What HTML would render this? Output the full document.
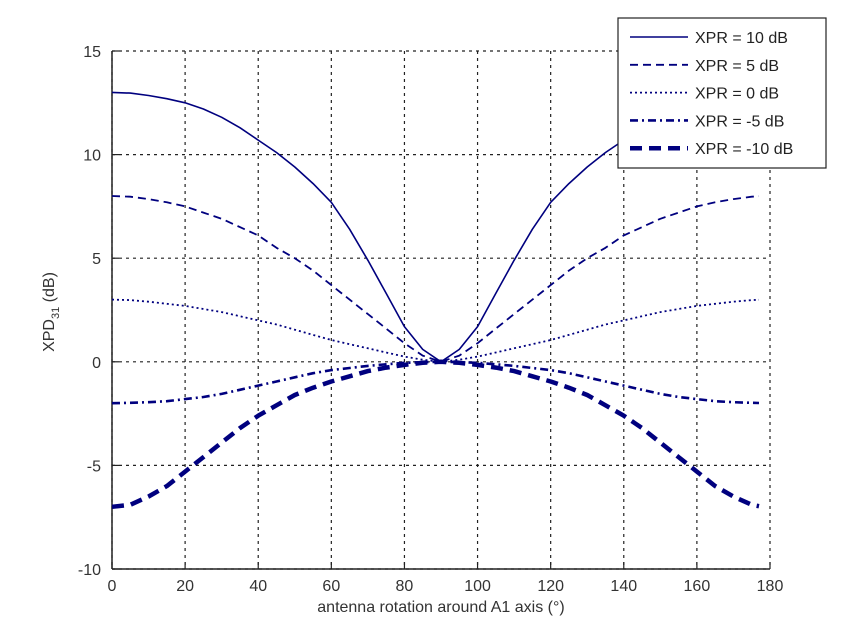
<!DOCTYPE html>
<html><head><meta charset="utf-8"><style>
body{margin:0;background:#fff;}
svg{display:block;font-family:"Liberation Sans",sans-serif;}
</style></head><body>
<svg id="chart" width="850" height="636" viewBox="0 0 850 636" xmlns="http://www.w3.org/2000/svg"></svg>
<script>
const angles=[0,5,10,15,20,25,30,35,40,45,50,55,60,65,70,75,80,85,90,95,100,105,110,115,120,125,130,135,140,145,150,155,160,165,170,175,177];
const xpr10=[13,12.97,12.85,12.7,12.5,12.2,11.8,11.3,10.7,10.1,9.4,8.6,7.7,6.4,4.9,3.3,1.7,0.6,0,0.6,1.7,3.3,4.9,6.4,7.7,8.6,9.4,10.1,10.7,11.3,11.8,12.2,12.5,12.7,12.85,12.97,12.99];
const xpr5=[8,7.97,7.85,7.7,7.5,7.2,6.9,6.5,6.1,5.5,5.0,4.4,3.7,3.0,2.3,1.6,0.9,0.3,0,0.3,0.9,1.6,2.3,3.0,3.7,4.4,5.0,5.5,6.1,6.5,6.9,7.2,7.5,7.7,7.85,7.97,7.99];
const xpr0=[3,2.98,2.9,2.8,2.7,2.55,2.4,2.2,2.0,1.8,1.55,1.3,1.05,0.85,0.65,0.45,0.25,0.1,0,0.1,0.25,0.45,0.65,0.85,1.05,1.3,1.55,1.8,2.0,2.2,2.4,2.55,2.7,2.8,2.9,2.98,2.99];
const xprm5=[-2,-1.98,-1.95,-1.9,-1.8,-1.7,-1.55,-1.35,-1.15,-0.95,-0.75,-0.55,-0.4,-0.3,-0.2,-0.12,-0.05,-0.02,0,-0.02,-0.05,-0.12,-0.2,-0.3,-0.4,-0.55,-0.75,-0.95,-1.15,-1.35,-1.55,-1.7,-1.8,-1.9,-1.95,-1.98,-1.99];
const xprm10=[-7,-6.9,-6.5,-6.0,-5.3,-4.6,-3.9,-3.2,-2.6,-2.1,-1.6,-1.25,-0.95,-0.7,-0.45,-0.28,-0.15,-0.05,0,-0.05,-0.15,-0.28,-0.45,-0.7,-0.95,-1.25,-1.6,-2.1,-2.6,-3.2,-3.9,-4.6,-5.3,-6.0,-6.5,-6.9,-6.97];
const xTicks=[0,20,40,60,80,100,120,140,160,180];
const yTicks=[-10,-5,0,5,10,15];
const seriesLabels=["XPR = 10 dB","XPR = 5 dB","XPR = 0 dB","XPR = -5 dB","XPR = -10 dB"];

const L=112,R=770,T=51,B=569;
const xs=v=>L+(v-0)/180*(R-L);
const ys=v=>B-(v+10)/25*(B-T);
const svg=document.getElementById('chart');
const NS='http://www.w3.org/2000/svg';
function mk(tag,attrs,parent){const e=document.createElementNS(NS,tag);for(const k in attrs)e.setAttribute(k,attrs[k]);(parent||svg).appendChild(e);return e;}

// grid
xTicks.forEach(t=>{
  const g=mk('line',{x1:xs(t),x2:xs(t),y1:T,y2:B,stroke:'#222','stroke-width':1.2,'stroke-dasharray':'3,4'});
  
  
});
yTicks.forEach(t=>{
  const g=mk('line',{x1:L,x2:R,y1:ys(t),y2:ys(t),stroke:'#222','stroke-width':1.2,'stroke-dasharray':'3,4'});
  
  
});
// axes
const ax=mk('line',{x1:L,x2:R,y1:B,y2:B,stroke:'#222','stroke-width':1.5});


const ay=mk('line',{x1:L,x2:L,y1:T,y2:B,stroke:'#222','stroke-width':1.5});


xTicks.forEach(t=>{
  mk('line',{x1:xs(t),x2:xs(t),y1:B,y2:B-7,stroke:'#222','stroke-width':1.2});
  const tx=mk('text',{x:xs(t),y:B+22,'text-anchor':'middle','font-size':16,fill:'#333'});
  tx.textContent=t;
  
  
});
yTicks.forEach(t=>{
  mk('line',{x1:L,x2:L+7,y1:ys(t),y2:ys(t),stroke:'#222','stroke-width':1.2});
  const tx=mk('text',{x:101,y:ys(t)+6,'text-anchor':'end','font-size':16,fill:'#333'});
  tx.textContent=t;
  
  
});
// series
const C='#00007f';
const styles=[
 {w:1.6,d:''},{w:1.8,d:'8,5'},{w:1.8,d:'2,3'},{w:2.6,d:'8,4,2,4'},{w:4.5,d:'12,7'}];
const data=[xpr10,xpr5,xpr0,xprm5,xprm10];
const names=['line-xpr-10','line-xpr-5','line-xpr-0','line-xpr-minus5','line-xpr-minus10'];
data.forEach((arr,i)=>{
  const d=arr.map((v,j)=>(j?'L':'M')+xs(angles[j]).toFixed(1)+','+ys(v).toFixed(1)).join(' ');
  const p=mk('path',{d:d,fill:'none',stroke:C,'stroke-width':styles[i].w,'stroke-dasharray':styles[i].d,'stroke-linejoin':'round'});
  
  
});
// legend
const lg=mk('g',{});


mk('rect',{x:618,y:18,width:208,height:150,fill:'#fff',stroke:'#222','stroke-width':1.2},lg);
seriesLabels.forEach((s,i)=>{
  const y=37+i*27.8;
  const e=mk('g',{},lg);
  
  
  mk('line',{x1:630,x2:688,y1:y,y2:y,stroke:C,'stroke-width':styles[i].w,'stroke-dasharray':styles[i].d},e);
  const t=mk('text',{x:695,y:y+6,'font-size':16,fill:'#222'},e);
  t.textContent=s;
});
// titles
const xt=mk('text',{x:441,y:612,'text-anchor':'middle','font-size':16,fill:'#333'});
xt.textContent='antenna rotation around A1 axis (°)';


const yt=mk('text',{x:0,y:0,'text-anchor':'middle','font-size':16,fill:'#333',transform:'translate(54,312) rotate(-90)'});
yt.innerHTML='XPD<tspan font-size="11" dy="5">31</tspan><tspan dy="-5"> (dB)</tspan>';


</script>
</body></html>
